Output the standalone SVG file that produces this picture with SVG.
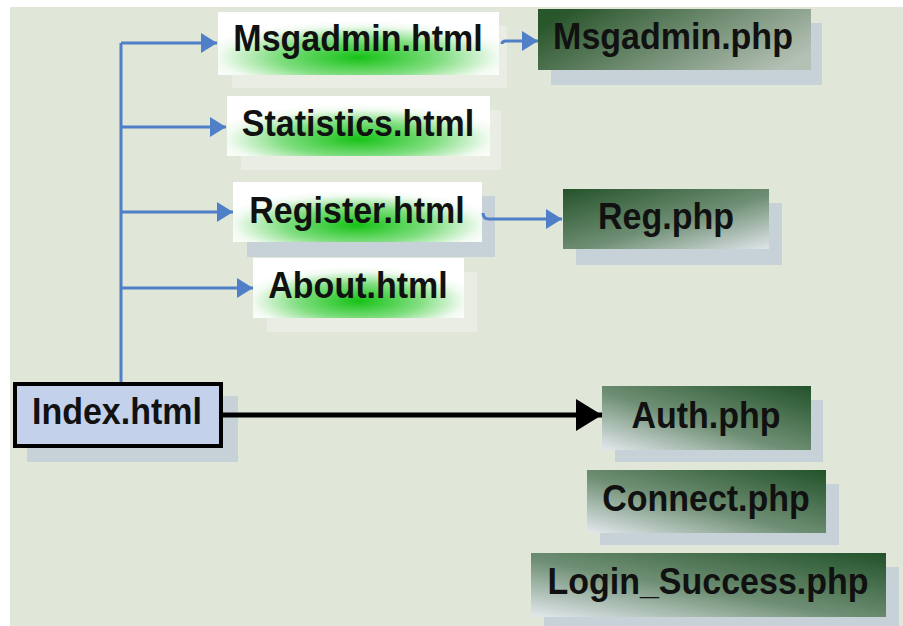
<svg xmlns="http://www.w3.org/2000/svg" width="903" height="626" viewBox="0 0 903 626">
  <style>
    .lbl { font-family: "Liberation Sans", Arial, sans-serif; font-weight: bold; font-size: 34px; fill: #111; text-anchor: middle; }
    .shadow-soft { fill: #e9ede4; }
    .shadow { fill: #c6d2d8; }
    .blue { fill: none; stroke: #4f7fc6; stroke-width: 3; }
    .black { fill: none; stroke: #000; stroke-width: 5; }
  </style>
  <defs>
    <radialGradient id="glow" cx="50%" cy="72%" r="58%">
      <stop offset="0" stop-color="#16c216"/>
      <stop offset="0.5" stop-color="#80de80"/>
      <stop offset="0.85" stop-color="#f0faf0"/>
      <stop offset="1" stop-color="#ffffff"/>
    </radialGradient>
    <linearGradient id="darkLeft" x1="0" y1="0.3" x2="1" y2="0.7">
      <stop offset="0" stop-color="#2a562c"/>
      <stop offset="1" stop-color="#b3c0b4"/>
    </linearGradient>
    <linearGradient id="darkTopLeft" x1="0" y1="0" x2="1" y2="1">
      <stop offset="0" stop-color="#24522a"/>
      <stop offset="0.55" stop-color="#6f8f74"/>
      <stop offset="1" stop-color="#dfe5ea"/>
    </linearGradient>
    <linearGradient id="darkTopRight" x1="0" y1="1" x2="1" y2="0">
      <stop offset="0" stop-color="#e3e9ee"/>
      <stop offset="0.45" stop-color="#6f8f74"/>
      <stop offset="1" stop-color="#22522a"/>
    </linearGradient>
    <marker id="blueHead" markerUnits="userSpaceOnUse" markerWidth="17" markerHeight="21" refX="16" refY="10" orient="auto">
      <path d="M0,0 L16,10 L0,20 Z" fill="#4f7fc6"/>
    </marker>
    <marker id="blackHead" markerUnits="userSpaceOnUse" markerWidth="28" markerHeight="34" refX="26" refY="16" orient="auto">
      <path d="M0,0 L26,16 L0,32 Z" fill="#000"/>
    </marker>
  </defs>

  <!-- page background -->
  <rect x="10" y="7" width="893" height="619" fill="#e0e6d8"/>

  <!-- html pages (labels stretched slightly upward from their baseline) -->
  <g id="msgadmin-html">
    <rect class="shadow-soft" x="232" y="26" width="275" height="62"/>
    <rect x="218" y="12" width="281" height="63" fill="url(#glow)"/>
    <text class="lbl" x="358" y="51" transform="matrix(1,0,0,1.1,0,-5.1)">Msgadmin.html</text>
  </g>
  <g id="statistics-html">
    <rect class="shadow-soft" x="241" y="110" width="260" height="60"/>
    <rect x="227" y="96" width="263" height="60" fill="url(#glow)"/>
    <text class="lbl" x="358" y="136" transform="matrix(1,0,0,1.1,0,-13.6)">Statistics.html</text>
  </g>
  <g id="register-html">
    <rect class="shadow" x="247" y="196" width="248" height="61"/>
    <rect x="233" y="182" width="249" height="60" fill="url(#glow)"/>
    <text class="lbl" x="357" y="223" transform="matrix(1,0,0,1.1,0,-22.3)">Register.html</text>
  </g>
  <g id="about-html">
    <rect class="shadow-soft" x="267" y="272" width="210" height="60"/>
    <rect x="253" y="258" width="211" height="60" fill="url(#glow)"/>
    <text class="lbl" x="358" y="298" transform="matrix(1,0,0,1.1,0,-29.8)">About.html</text>
  </g>

  <!-- php scripts -->
  <g id="msgadmin-php">
    <rect class="shadow" x="551" y="23" width="271" height="62"/>
    <rect x="538" y="9" width="273" height="61" fill="url(#darkLeft)"/>
    <text class="lbl" x="673" y="49" transform="matrix(1,0,0,1.1,0,-4.9)">Msgadmin.php</text>
  </g>
  <g id="reg-php">
    <rect class="shadow" x="576" y="203" width="206" height="62"/>
    <rect x="563" y="189" width="206" height="60" fill="url(#darkTopLeft)"/>
    <text class="lbl" x="666" y="229" transform="matrix(1,0,0,1.1,0,-22.9)">Reg.php</text>
  </g>

  <!-- entry page -->
  <g id="index-html">
    <rect class="shadow" x="27" y="396" width="211" height="66"/>
    <rect x="15" y="384" width="206" height="62" fill="#c3d2ea" stroke="#000" stroke-width="4"/>
    <text class="lbl" x="117" y="424" transform="matrix(1,0,0,1.1,0,-42.4)">Index.html</text>
  </g>

  <g id="auth-php">
    <rect class="shadow" x="615" y="400" width="208" height="62"/>
    <rect x="602" y="386" width="209" height="64" fill="url(#darkTopRight)"/>
    <text class="lbl" x="706" y="428" transform="matrix(1,0,0,1.1,0,-42.8)">Auth.php</text>
  </g>
  <g id="connect-php">
    <rect class="shadow" x="600" y="484" width="239" height="61"/>
    <rect x="587" y="470" width="239" height="63" fill="url(#darkTopRight)"/>
    <text class="lbl" x="706" y="511" transform="matrix(1,0,0,1.1,0,-51.1)">Connect.php</text>
  </g>
  <g id="login-success-php">
    <rect class="shadow" x="544" y="567" width="355" height="62"/>
    <rect x="531" y="553" width="355" height="64" fill="url(#darkTopRight)"/>
    <text class="lbl" x="708" y="594" transform="matrix(1,0,0,1.1,0,-59.4)">Login_Success.php</text>
  </g>

  <!-- connectors, drawn over the box shadows -->
  <g id="connectors">
    <path class="blue" d="M121,382 L121,43"/>
    <path class="blue" d="M121,43 L217,43" marker-end="url(#blueHead)"/>
    <path class="blue" d="M121,127 L226,127" marker-end="url(#blueHead)"/>
    <path class="blue" d="M121,212 L233,212" marker-end="url(#blueHead)"/>
    <path class="blue" d="M121,288 L253,288" marker-end="url(#blueHead)"/>
    <path class="blue" d="M502,44 Q502,41 506,41 L538,41" marker-end="url(#blueHead)"/>
    <path class="blue" d="M483,213 Q483,219 489,219 L562,219" marker-end="url(#blueHead)"/>
    <path class="black" d="M223,415 L602,415" marker-end="url(#blackHead)"/>
  </g>
</svg>
